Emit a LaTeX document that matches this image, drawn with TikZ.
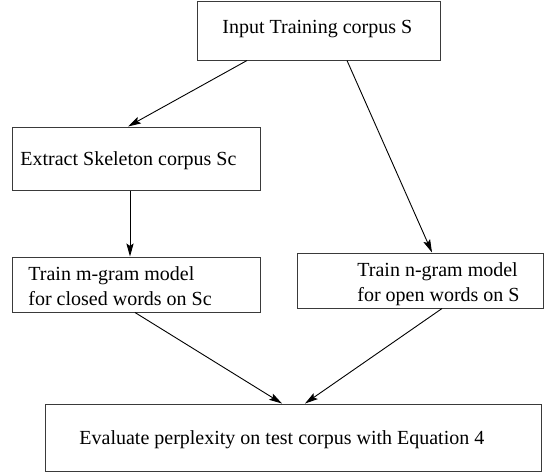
\documentclass[tikz,border=0pt]{standalone}
\usepackage{fontspec}
\setmainfont{Liberation Serif}
\usepackage{tikz}
\usetikzlibrary{arrows.meta, calc}
\definecolor{flowline}{HTML}{000000}
\definecolor{flowedge}{HTML}{3A3A3A}

\begin{document}
\begin{tikzpicture}[
  x=0.5pt, y=-0.5pt,
  every node/.style={font=\fontsize{10pt}{12.5pt}\selectfont},
  flowbox/.style={rectangle, draw=flowedge, line width=0.5pt, inner sep=0pt},
  flowtext/.style={anchor=west, align=left, inner sep=0pt},
  flowarrow/.style={draw=flowline, line width=0.45pt, -{Stealth[length=6.5pt, width=3.6pt, inset=1.2pt]}},
]
\useasboundingbox (0, 0) rectangle (544, 472);

\node[flowbox, minimum width=121.5pt, minimum height=29.5pt] (input) at (318.5, 30.5) {};
\node[flowbox, minimum width=124pt, minimum height=31.5pt] (extract) at (136, 158.5) {};
\node[flowbox, minimum width=124pt, minimum height=27.5pt] (mgram) at (136, 284.5) {};
\node[flowbox, minimum width=123pt, minimum height=27.5pt] (ngram) at (420, 280.5) {};
\node[flowbox, minimum width=248pt, minimum height=33.5pt] (eval) at (293, 437.5) {};

\node[flowtext] (inputtext) at (222, 29) {Input Training corpus S};
\node[flowtext] (extracttext) at (20, 161) {Extract Skeleton corpus Sc};
\node[flowtext] (mgramtext) at (28, 286) {Train m-gram model\\for closed words on Sc};
\node[flowtext] (ngramtext) at (357, 284) {Train n-gram model\\for open words on S};
\node[flowtext] (evaltext) at (79, 440) {Evaluate perplexity on test corpus with Equation 4};

\draw[flowarrow] ($(input.south)+(-71.5, 0)$) -- ($(extract.north)+(-8, 0)$);
\draw[flowarrow] ($(input.south)+(28.5, 0)$) -- ($(ngram.north)+(12, 0)$);
\draw[flowarrow] ($(extract.south)+(-6, 0)$) -- ($(mgram.north)+(-6, 0)$);
\draw[flowarrow] ($(mgram.south)+(-1, 0)$) -- ($(eval.north)+(-11, 0)$);
\draw[flowarrow] ($(ngram.south)+(22, 0)$) -- ($(eval.north)+(12, 0)$);
\end{tikzpicture}
\end{document}
